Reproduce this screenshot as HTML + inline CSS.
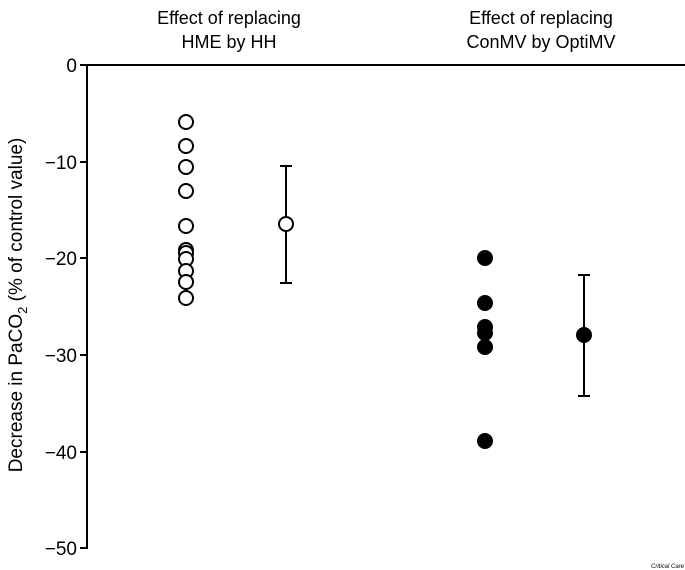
<!DOCTYPE html>
<html><head><style>body{margin:0;background:#fff}svg{display:block}</style></head><body>
<svg width="685" height="570" xmlns="http://www.w3.org/2000/svg" font-family="Liberation Sans, Arial, sans-serif">
<rect width="685" height="570" fill="#fff"/>
<g stroke="#000" stroke-width="2" fill="none">
<line x1="87" y1="65" x2="685" y2="65"/>
<line x1="87" y1="64" x2="87" y2="549"/>
<line x1="80" y1="65" x2="87" y2="65"/>
<line x1="80" y1="162" x2="87" y2="162"/>
<line x1="80" y1="258" x2="87" y2="258"/>
<line x1="80" y1="355" x2="87" y2="355"/>
<line x1="80" y1="452" x2="87" y2="452"/>
<line x1="80" y1="548" x2="87" y2="548"/>
</g>
<g font-size="19" text-anchor="end" fill="#000">
<text x="77" y="72">0</text>
<text x="77" y="169">−10</text>
<text x="77" y="265">−20</text>
<text x="77" y="362">−30</text>
<text x="77" y="459">−40</text>
<text x="77" y="555">−50</text>
</g>
<g font-size="18" text-anchor="middle" fill="#000">
<text x="229" y="24">Effect of replacing</text>
<text x="229" y="48">HME by HH</text>
<text x="541" y="24">Effect of replacing</text>
<text x="541" y="48">ConMV by OptiMV</text>
</g>
<text transform="translate(22,305) rotate(-90)" font-size="19" text-anchor="middle">Decrease in PaCO<tspan font-size="13" dy="5">2</tspan><tspan dy="-5"> (% of control value)</tspan></text>
<g stroke="#000" stroke-width="2" fill="#fff">
<circle cx="186" cy="122" r="7"/><circle cx="186" cy="146" r="7"/><circle cx="186" cy="167" r="7"/>
<circle cx="186" cy="191" r="7"/><circle cx="186" cy="226" r="7"/><circle cx="186" cy="250" r="7"/>
<circle cx="186" cy="253" r="7"/><circle cx="186" cy="259" r="7"/><circle cx="186" cy="271" r="7"/>
<circle cx="186" cy="282" r="7"/><circle cx="186" cy="298" r="7"/>
<line x1="286" y1="166" x2="286" y2="283"/><line x1="280" y1="166" x2="292" y2="166"/><line x1="280" y1="283" x2="292" y2="283"/>
<circle cx="286" cy="224" r="7"/>
</g>
<g fill="#000" stroke="#000" stroke-width="2">
<circle cx="485" cy="258" r="7"/><circle cx="485" cy="303" r="7"/><circle cx="485" cy="327" r="7"/>
<circle cx="485" cy="333" r="7"/><circle cx="485" cy="347" r="7"/><circle cx="485" cy="441" r="7"/>
<line x1="584" y1="275" x2="584" y2="396"/><line x1="578" y1="275" x2="590" y2="275"/><line x1="578" y1="396" x2="590" y2="396"/>
<circle cx="584" cy="335" r="7"/>
</g>
<text x="684" y="568" font-size="6" font-style="italic" text-anchor="end">Critical Care</text>
</svg>
</body></html>
